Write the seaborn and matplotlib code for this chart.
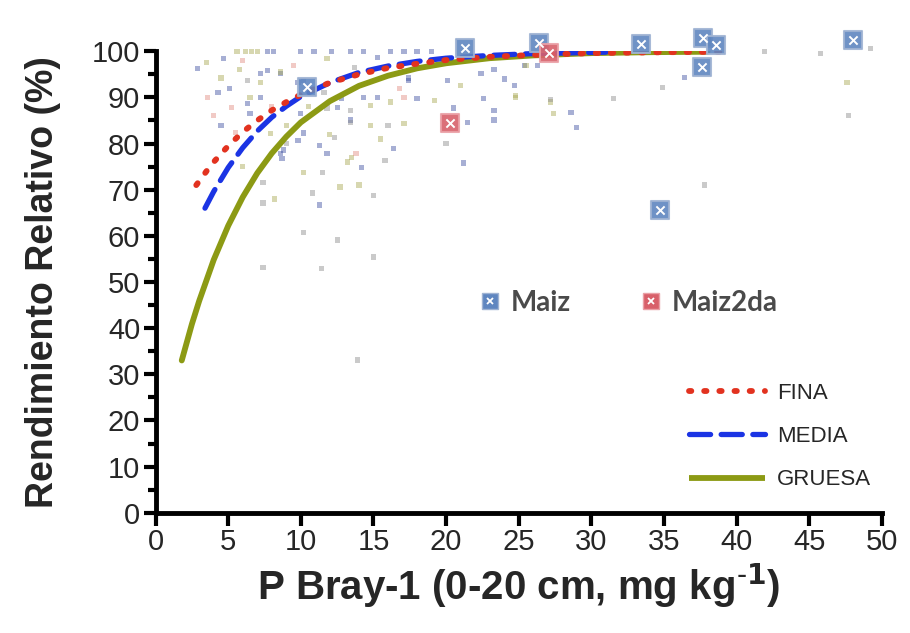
import pandas as pd
import matplotlib.pyplot as plt
import seaborn as sns
from matplotlib.lines import Line2D

# fitted curves
fina_x = [2.8, 3.5, 4, 5, 6, 7, 8, 9, 10, 12, 14, 16, 18, 20, 23, 26, 30, 35, 39.5]
fina_y = [71.0, 74.0, 76.0, 79.5, 82.5, 85.0, 87.2, 89.0, 90.6, 93.2, 95.0, 96.4, 97.3, 98.1, 98.8, 99.2, 99.6, 99.8, 99.9]
media_x = [3.4, 4, 5, 6, 7, 8, 9, 10, 12, 14, 16, 18, 20, 23, 26, 31]
media_y = [66.0, 69.6, 74.8, 79.1, 82.7, 85.7, 88.1, 90.2, 93.2, 95.4, 96.8, 97.8, 98.5, 99.1, 99.5, 99.8]
gruesa_x = [1.8, 2.5, 3, 4, 5, 6, 7, 8, 9, 10, 12, 14, 16, 18, 20, 23, 26, 30, 34, 38]
gruesa_y = [33.0, 40.9, 45.9, 54.8, 62.2, 68.4, 73.6, 77.9, 81.5, 84.6, 89.2, 92.5, 94.7, 96.3, 97.4, 98.5, 99.1, 99.6, 99.8, 99.9]

# large markers
maiz_x = [10.4, 21.3, 26.4, 33.4, 37.7, 38.6, 37.6, 48.0, 34.7]
maiz_y = [92.2, 100.8, 101.8, 101.6, 102.8, 101.3, 96.5, 102.4, 65.6]
maiz2_x = [20.3, 27.1]
maiz2_y = [84.4, 99.6]

# small background points
blue_x = [2.9, 4.7, 7.7, 8.1, 4.3, 5.1, 7.2, 7.7, 6.5, 4.5, 8.8, 8.7, 9.8, 10.2, 11.3, 12.5, 13.4, 14.3,
          15.3, 16.4, 21.2, 21.5, 22.4, 23.3, 24.0, 24.7, 23.3, 23.3, 17.4, 10.0, 10.9, 12.1, 13.4, 14.3,
          16.2, 17.1, 18.0, 19.0, 10.2, 8.6, 6.3, 7.2, 26.3, 28.6, 29.0, 36.4, 11.3, 11.8, 14.2, 8.6,
          15.3, 9.8, 12.8, 10.0, 17.4, 20.1, 18.0, 20.5, 25.4, 22.6]
blue_y = [96.3, 98.5, 100, 100, 91.0, 92.0, 95.2, 95.9, 86.6, 84.0, 78.6, 76.8, 80.7, 82.3, 66.7, 87.9, 85.1, 90.0,
          90.0, 79.0, 75.8, 84.6, 95.2, 96.0, 94.0, 92.6, 87.2, 85.1, 94.2, 100, 100, 100, 100, 100,
          100, 100, 100, 100, 93.7, 95.2, 88.7, 90.0, 97.0, 86.8, 83.5, 94.4, 79.6, 77.9, 74.9, 77.9,
          98.7, 93.3, 89.8, 86.6, 93.7, 93.7, 89.8, 87.7, 97.0, 89.8]
olive_x = [5.6, 6.2, 6.6, 7.0, 4.5, 7.2, 8.6, 7.9, 6.5, 10.2, 12.7, 13.2, 13.5, 11.8, 14.8, 16.2, 14.8, 17.1,
           21.0, 19.2, 24.8, 25.5, 24.8, 27.2, 27.4, 47.6, 9.0, 10.5, 5.8, 3.5, 12.0, 15.5, 6.0, 8.2, 14.0]
olive_y = [100, 100, 100, 100, 94.2, 93.3, 95.5, 82.2, 90.0, 73.8, 70.6, 76.0, 77.0, 98.5, 88.3, 89.0, 84.0, 84.4,
           92.6, 89.4, 90.5, 97.0, 90.0, 89.0, 86.6, 93.3, 84.0, 88.0, 96.0, 97.5, 82.0, 81.0, 75.0, 68.0, 71.0]
grey_x = [6.3, 13.7, 11.6, 11.8, 13.4, 16.0, 13.4, 12.3, 15.8, 10.8, 15.0, 11.5, 10.2, 12.5, 15.0, 7.4, 11.4,
          13.9, 7.4, 7.4, 31.5, 34.9, 41.9, 45.8, 49.2, 47.7, 37.8, 27.2, 9.0, 20.0]
grey_y = [93.7, 96.5, 91.1, 87.7, 87.2, 84.0, 84.6, 81.4, 76.4, 69.3, 68.8, 73.8, 60.8, 59.1, 55.4, 53.2, 53.0,
          33.1, 71.6, 67.1, 89.8, 92.2, 100, 99.6, 100.6, 86.1, 71.0, 89.5, 80.0, 80.0]
pink_x = [4.0, 5.2, 5.5, 17.1, 13.8, 6.0, 9.5, 3.6, 16.8, 8.0]
pink_y = [86.1, 87.9, 82.4, 90.0, 77.9, 98.0, 97.0, 90.0, 92.0, 88.0]

sns.set_style('ticks')
plt.rcParams['font.family'] = ['Liberation Sans', 'DejaVu Sans']

fig = plt.figure(figsize=(9.1, 6.33), dpi=100)
ax = fig.add_axes([0.171, 0.19, 0.798, 0.729])

small = [(blue_x, blue_y, '#3c4fa0'), (olive_x, olive_y, '#a8a850'),
         (grey_x, grey_y, '#8a8a8a'), (pink_x, pink_y, '#e08a80')]
for xs, ys, c in small:
    sns.scatterplot(x=xs, y=ys, ax=ax, marker='s', s=14, color=c, alpha=0.45,
                    edgecolor='none', clip_on=False, zorder=2)

curves = pd.concat([
    pd.DataFrame({'x': fina_x, 'y': fina_y, 'tipo': 'FINA'}),
    pd.DataFrame({'x': media_x, 'y': media_y, 'tipo': 'MEDIA'}),
    pd.DataFrame({'x': gruesa_x, 'y': gruesa_y, 'tipo': 'GRUESA'}),
])
line_cols = {'FINA': '#e2321f', 'MEDIA': '#1b34e4', 'GRUESA': '#8c9a14'}
line_dash = {'FINA': (0.4, 2.2), 'MEDIA': (4, 2), 'GRUESA': ''}
line_w = {'FINA': 4.2, 'MEDIA': 3.8, 'GRUESA': 4.2}
for tipo in ['GRUESA', 'MEDIA', 'FINA']:
    d = curves[curves['tipo'] == tipo]
    sns.lineplot(data=d, x='x', y='y', ax=ax, color=line_cols[tipo], lw=line_w[tipo],
                 dashes=False, zorder=3, legend=False, solid_capstyle='round')
    ln = ax.lines[-1]
    if line_dash[tipo]:
        ln.set_dashes(line_dash[tipo])
        ln.set_dash_capstyle('round')

maiz_fc, maiz_ec = '#5f86c0', '#9fb3d3'
maiz2_fc, maiz2_ec = '#d8606a', '#eaa0a6'
for xs, ys, fc, ec in [(maiz_x, maiz_y, maiz_fc, maiz_ec), (maiz2_x, maiz2_y, maiz2_fc, maiz2_ec)]:
    sns.scatterplot(x=xs, y=ys, ax=ax, marker='s', s=150, color=fc, edgecolor=ec,
                    linewidth=1.5, alpha=0.9, clip_on=False, zorder=4)
    ax.scatter(xs, ys, marker='x', s=35, color='white', linewidths=1.4, clip_on=False, zorder=5)

ax.set_xlim(0, 50)
ax.set_ylim(0, 100)
ax.set_xticks(range(0, 51, 5))
ax.set_yticks(range(0, 101, 10))
ax.set_yticks(range(5, 100, 10), minor=True)
ax.tick_params(axis='both', which='major', labelsize=21, width=3, length=9, color='black', pad=2)
ax.tick_params(axis='y', which='minor', width=3, length=6, color='black')
for side in ['left', 'bottom']:
    ax.spines[side].set_linewidth(3.5)
    ax.spines[side].set_color('black')
sns.despine(ax=ax)

ax.set_xlabel('P Bray-1 (0-20 cm, mg kg$^{\\mathbf{\\text{-}1}}$)', fontsize=29, fontweight='bold', labelpad=4)
ax.set_ylabel('Rendimiento Relativo (%)', fontsize=27, fontweight='bold', labelpad=22)

# legend for the crops
def crop_handle(fc, ec):
    sq = Line2D([], [], marker='s', ls='none', markersize=11, markerfacecolor=fc, markeredgecolor=ec)
    cr = Line2D([], [], marker='x', ls='none', markersize=5, markeredgecolor='white', markeredgewidth=1.3)
    return (sq, cr)

leg1 = ax.legend([crop_handle(maiz_fc, maiz_ec), crop_handle(maiz2_fc, maiz2_ec)], ['Maiz', 'Maiz2da'],
                 ncol=2, frameon=False, loc='center left', handlelength=0.8,
                 bbox_to_anchor=(0.445, 0.455), borderpad=0, borderaxespad=0, handletextpad=0.35,
                 columnspacing=2.5, prop={'family': 'Lato', 'weight': 'bold', 'size': 20})
for t in leg1.get_texts():
    t.set_color('#4a4a4a')
ax.add_artist(leg1)

line_handles = []
for tipo in ['FINA', 'MEDIA', 'GRUESA']:
    h = Line2D([], [], color=line_cols[tipo], lw=line_w[tipo], solid_capstyle='butt')
    if line_dash[tipo]:
        h.set_dashes(line_dash[tipo])
        h.set_dash_capstyle('round')
    line_handles.append(h)
ax.legend(line_handles, ['FINA', 'MEDIA', 'GRUESA'], frameon=False, loc='center left',
          bbox_to_anchor=(0.735, 0.165), borderpad=0, borderaxespad=0, handlelength=3.4,
          handletextpad=0.55, labelspacing=1.0, fontsize=16)

fig.savefig('out.png', dpi=100, facecolor='white')
